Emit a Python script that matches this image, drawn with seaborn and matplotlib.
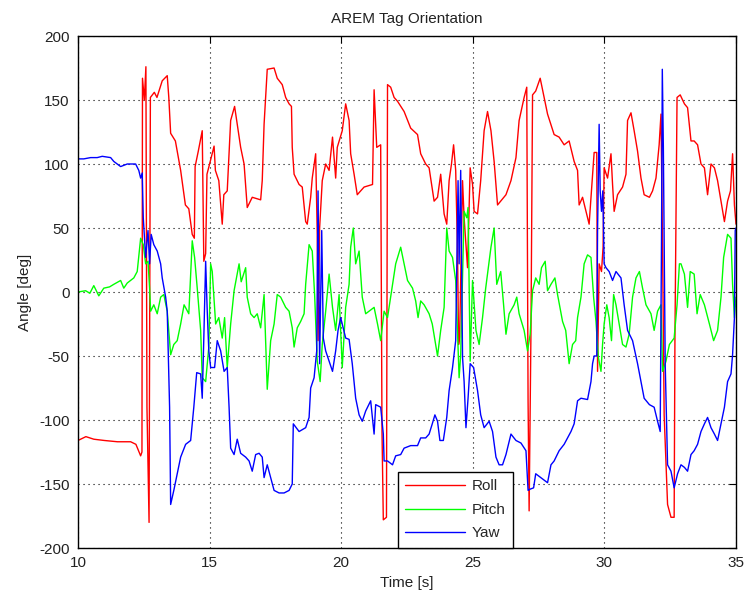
import matplotlib
matplotlib.use("Agg")
import matplotlib.pyplot as plt
import seaborn as sns
import pandas as pd
from matplotlib.lines import Line2D

# ---------------- data ----------------
roll_t = [10.0, 10.3, 10.6, 11.0, 11.5, 12.0, 12.2, 12.38, 12.43, 12.45, 12.52, 12.58, 12.62, 12.7,
          12.75, 12.9, 13.0, 13.2, 13.39, 13.45, 13.52, 13.7, 13.9, 14.08, 14.21, 14.34, 14.42, 14.45,
          14.57, 14.72, 14.78, 14.85, 14.9, 15.0, 15.17, 15.22, 15.35, 15.48, 15.54, 15.67, 15.8,
          15.95, 16.05, 16.18, 16.31, 16.43, 16.62, 16.94, 17.0, 17.07, 17.19, 17.45, 17.57, 17.76,
          17.89, 18.02, 18.11, 18.14, 18.21, 18.4, 18.52, 18.65, 18.71, 18.84, 18.9, 19.03, 19.09,
          19.12, 19.18, 19.28, 19.41, 19.54, 19.67, 19.79, 19.85, 20.04, 20.17, 20.3, 20.36, 20.49,
          20.61, 20.87, 21.19, 21.25, 21.35, 21.5, 21.55, 21.6, 21.72, 21.76, 21.88, 22.01, 22.14,
          22.39, 22.64, 22.9, 23.02, 23.21, 23.34, 23.53, 23.66, 23.78, 23.91, 24.01, 24.1, 24.19,
          24.27, 24.35, 24.42, 24.46, 24.5, 24.61, 24.67, 24.8, 24.9, 24.99, 25.05, 25.18, 25.3,
          25.43, 25.56, 25.69, 25.81, 25.94, 26.06, 26.26, 26.45, 26.64, 26.76, 26.95, 27.05, 27.1,
          27.14, 27.21, 27.27, 27.39, 27.56, 27.71, 27.84, 28.09, 28.28, 28.47, 28.66, 28.85, 28.98,
          29.04, 29.17, 29.3, 29.42, 29.51, 29.61, 29.71, 29.74, 29.8, 29.89, 29.95, 29.99, 30.12,
          30.25, 30.31, 30.37, 30.5, 30.69, 30.82, 30.88, 31.01, 31.13, 31.26, 31.39, 31.51, 31.71,
          31.83, 31.96, 32.08, 32.15, 32.21, 32.27, 32.4, 32.53, 32.65, 32.68, 32.76, 32.88, 33.04,
          33.16, 33.29, 33.41, 33.54, 33.67, 33.8, 33.92, 34.05, 34.18, 34.3, 34.43, 34.56, 34.68,
          34.79, 34.87, 34.94, 35.0]
roll_v = [-116, -113, -115, -116, -117, -117, -119, -128, -125, 167, 150, 176, -90, -180,
          152, 156, 152, 165, 169, 152, 124, 118, 95, 68, 65, 45, 42, 98,
          110, 126, 24, 30, 92, 100, 114, 95, 87, 53, 76, 79, 134,
          145, 131, 113, 100, 66, 74, 72, 87, 131, 174, 175, 167, 162,
          152, 147, 145, 113, 92, 84, 82, 55, 53, 74, 89, 108, 45,
          -38, 50, 87, 100, 95, 121, 89, 113, 126, 147, 134, 108, 92,
          76, 82, 84, 158, 113, 115, -109, -178, -176, 162, 160, 152, 149,
          141, 128, 123, 108, 100, 97, 71, 74, 92, 61, 53, 87, 100,
          115, 95, 32, -41, -35, 87, 58, 19, 97, 84, 63, 61, 87,
          126, 141, 126, 102, 68, 71, 76, 87, 105, 134, 152, 160, -85,
          -171, -30, 154, 157, 167, 152, 139, 123, 121, 115, 118, 102, 95,
          68, 74, 63, 53, 79, 109, 109, -62, 22, 16, 35, 97, 89,
          108, 84, 63, 76, 82, 92, 134, 140, 126, 110, 89, 76, 74,
          79, 89, 115, 139, 35, -96, -166, -176, -176, -36, 152, 154, 147,
          144, 118, 118, 115, 100, 97, 76, 100, 97, 87, 71, 55, 71,
          79, 108, 68, 53]

pitch_t = [10.0, 10.29, 10.45, 10.6, 10.79, 10.98, 11.2, 11.36, 11.62, 11.74, 11.87, 12.12, 12.25,
           12.38, 12.48, 12.57, 12.66, 12.72, 12.76, 12.88, 13.01, 13.14, 13.26, 13.39, 13.52, 13.64,
           13.77, 13.9, 14.03, 14.21, 14.34, 14.43, 14.53, 14.66, 14.72, 14.85, 14.97, 15.04, 15.1,
           15.23, 15.35, 15.48, 15.57, 15.67, 15.8, 15.93, 16.12, 16.2, 16.37, 16.43, 16.56, 16.69,
           16.81, 16.94, 17.07, 17.19, 17.32, 17.45, 17.57, 17.7, 17.89, 18.02, 18.14, 18.21, 18.33,
           18.46, 18.59, 18.65, 18.78, 18.9, 18.99, 19.09, 19.2, 19.28, 19.41, 19.54, 19.67, 19.79,
           19.92, 20.04, 20.17, 20.3, 20.36, 20.46, 20.55, 20.68, 20.8, 20.93, 21.06, 21.25, 21.38,
           21.5, 21.63, 21.76, 21.95, 22.07, 22.26, 22.39, 22.52, 22.71, 22.83, 22.92, 23.02, 23.15,
           23.34, 23.46, 23.66, 23.78, 23.91, 24.01, 24.1, 24.23, 24.35, 24.48, 24.54, 24.67, 24.77,
           24.82, 24.9, 24.99, 25.12, 25.24, 25.37, 25.49, 25.69, 25.81, 25.91, 26.06, 26.17, 26.26,
           26.38, 26.57, 26.67, 26.76, 26.95, 27.08, 27.18, 27.27, 27.39, 27.52, 27.61, 27.75, 27.84,
           27.97, 28.12, 28.22, 28.41, 28.53, 28.66, 28.79, 28.91, 28.98, 29.11, 29.23, 29.36, 29.49,
           29.59, 29.68, 29.77, 29.87, 29.93, 29.99, 30.09, 30.18, 30.27, 30.35, 30.44, 30.56, 30.69,
           30.82, 30.94, 31.07, 31.2, 31.33, 31.45, 31.58, 31.77, 31.89, 32.02, 32.15, 32.21, 32.34,
           32.47, 32.65, 32.76, 32.85, 32.91, 33.04, 33.16, 33.26, 33.41, 33.52, 33.64, 33.8, 33.99,
           34.15, 34.3, 34.43, 34.53, 34.68, 34.81, 34.87, 34.94, 35.0]
pitch_v = [0, 1, -1, 5, -3, 3, 4, 6, 9, 3, 7, 11, 16,
           42, 37, 22, 24, 3, -15, -10, -17, -4, -2, -15, -49, -41,
           -38, -25, -10, -17, 40, 27, 3, -30, -67, -70, -43, 22, 16,
           -25, -20, -36, -20, -59, -25, 1, 22, 8, 19, -4, -17, -20,
           -17, -28, -2, -76, -38, -25, -2, -4, -12, -15, -28, -43, -28,
           -23, -17, 6, 37, 32, -2, -54, -70, -41, -15, 14, -12, -30,
           -2, -59, -12, 6, 35, 50, 22, 32, -4, -17, -15, -12, -25,
           -38, -15, -20, 6, 22, 35, 22, 9, 3, -7, -20, -7, -10,
           -17, -25, -50, -30, -12, 50, 32, 27, 9, -67, -49, 63, 58,
           66, -54, 9, -30, -41, -20, 3, 35, 50, 6, 16, -10, -33,
           -17, -10, -4, -17, -30, -46, -33, 1, 11, 6, 19, 24, 1,
           6, 11, -2, -23, -30, -56, -41, -38, -20, -4, 22, 29, 27,
           -4, -23, -51, -62, -41, -25, -10, -20, -38, -2, -10, -25, -41,
           -43, -33, -4, 11, 16, 3, -10, -17, -30, -15, -10, -62, -54,
           -41, -36, -10, 22, 22, 14, -12, 16, 14, -17, -2, -10, -25,
           -38, -30, -4, 27, 45, 42, 6, -20, -4]

yaw_t = [10.0, 10.22, 10.48, 10.73, 10.92, 11.24, 11.36, 11.62, 11.87, 12.19, 12.31, 12.38, 12.44,
         12.48, 12.57, 12.66, 12.72, 12.78, 12.88, 13.01, 13.14, 13.2, 13.33, 13.39, 13.48, 13.52,
         13.64, 13.77, 13.9, 14.09, 14.28, 14.4, 14.51, 14.66, 14.72, 14.78, 14.85, 14.91, 14.97,
         15.04, 15.19, 15.29, 15.42, 15.55, 15.67, 15.74, 15.8, 15.93, 16.05, 16.18, 16.37, 16.5,
         16.62, 16.75, 16.88, 17.0, 17.07, 17.19, 17.32, 17.45, 17.64, 17.83, 18.02, 18.14, 18.18,
         18.4, 18.65, 18.78, 18.84, 18.97, 19.07, 19.12, 19.18, 19.26, 19.32, 19.41, 19.54, 19.67,
         19.79, 19.88, 19.98, 20.04, 20.17, 20.3, 20.42, 20.55, 20.68, 20.8, 20.93, 21.12, 21.25,
         21.31, 21.5, 21.6, 21.63, 21.76, 21.95, 22.07, 22.26, 22.39, 22.64, 22.9, 23.02, 23.21,
         23.34, 23.46, 23.56, 23.66, 23.75, 23.88, 24.01, 24.1, 24.23, 24.35, 24.44, 24.48, 24.54,
         24.61, 24.67, 24.74, 24.82, 24.9, 25.03, 25.18, 25.3, 25.43, 25.62, 25.75, 25.88, 26.0,
         26.13, 26.26, 26.45, 26.64, 26.83, 27.02, 27.1, 27.18, 27.31, 27.39, 27.58, 27.84, 27.97,
         28.09, 28.28, 28.47, 28.73, 28.85, 28.98, 29.11, 29.36, 29.49, 29.55, 29.61, 29.71, 29.74,
         29.8, 29.84, 29.89, 29.94, 29.99, 30.06, 30.18, 30.31, 30.44, 30.63, 30.75, 30.88, 31.07,
         31.26, 31.39, 31.51, 31.71, 31.89, 32.02, 32.12, 32.17, 32.2, 32.24, 32.31, 32.4, 32.53,
         32.65, 32.78, 32.91, 33.04, 33.16, 33.29, 33.41, 33.54, 33.67, 33.8, 33.92, 34.05, 34.18,
         34.3, 34.43, 34.56, 34.68, 34.81, 34.87, 34.94, 34.97, 35.0]
yaw_v = [104, 104, 105, 105, 106, 105, 102, 98, 100, 100, 95, 89, 93,
         58, 27, 48, 22, 45, 37, 32, 22, 11, -4, -15, -90, -166,
         -155, -142, -129, -119, -116, -90, -63, -64, -83, -36, 24, -15, -46,
         -59, -59, -38, -46, -62, -59, -90, -122, -127, -115, -126, -129, -132,
         -140, -127, -126, -129, -145, -135, -145, -155, -157, -157, -155, -150, -103,
         -109, -106, -98, -75, -67, -46, 79, -56, 48, -36, -46, -54, -62,
         -46, -30, -20, -25, -36, -37, -56, -83, -96, -101, -93, -85, -111,
         -88, -90, -111, -132, -132, -135, -128, -127, -122, -120, -120, -114, -114,
         -111, -103, -96, -101, -116, -116, -98, -77, -59, -38, 87, 22, 95,
         -51, -70, -106, -83, -56, -59, -77, -96, -106, -101, -109, -129, -135,
         -135, -127, -111, -116, -118, -124, -155, -154, -153, -142, -145, -149, -135,
         -132, -124, -119, -109, -103, -85, -83, -84, -70, -56, -50, -50, 48,
         131, 79, 63, 79, 22, 19, 16, 9, 16, 11, -10, -30, -38,
         -56, -70, -83, -88, -90, -101, -109, 42, 174, 113, -56, -135, -140,
         -153, -142, -135, -137, -140, -127, -124, -119, -109, -103, -98, -106, -111,
         -116, -103, -90, -70, -64, -49, -20, 48, 50]

series_names = ["Roll", "Pitch", "Yaw"]
series_colors = ["#ff0000", "#00ff00", "#0000ff"]
x_ticks = [10, 15, 20, 25, 30, 35]
y_ticks = [-200, -150, -100, -50, 0, 50, 100, 150, 200]

# ---------------- style ----------------
sns.set_theme(style="white")
plt.rcParams["font.family"] = ["Liberation Sans", "DejaVu Sans"]
plt.rcParams["xtick.direction"] = "in"
plt.rcParams["ytick.direction"] = "in"
plt.rcParams["axes.unicode_minus"] = False

fig = plt.figure(figsize=(7.46, 5.99), dpi=100)
ax = fig.add_axes([78 / 746, 1 - 548 / 599, (736 - 78) / 746, (548 - 36) / 599])

frames = []
for name, tt, vv in zip(series_names, [roll_t, pitch_t, yaw_t], [roll_v, pitch_v, yaw_v]):
    frames.append(pd.DataFrame({"t": tt, "v": vv, "series": name}))
df = pd.concat(frames, ignore_index=True)

sns.lineplot(data=df, x="t", y="v", hue="series", hue_order=series_names,
             palette=dict(zip(series_names, series_colors)), units="series",
             estimator=None, sort=False, linewidth=1.0, ax=ax, legend=False)

ax.set_xlim(10, 35)
ax.set_ylim(-200, 200)
ax.set_xticks(x_ticks)
ax.set_yticks(y_ticks)
ax.tick_params(axis="both", which="both", labelsize=11, length=5, width=0.8,
               color="black", top=True, right=True, pad=6, labelcolor="#222222")
ax.grid(True, color="black", linestyle=(0, (1, 3.5)), linewidth=0.8)
for s in ax.spines.values():
    s.set_color("black")
    s.set_linewidth(1.0)

ax.set_title("AREM Tag Orientation", fontsize=11, color="#222222", pad=9)
ax.set_xlabel("Time [s]", fontsize=11, color="#222222", labelpad=4)
ax.set_ylabel("Angle [deg]", fontsize=11, color="#222222", labelpad=5)

handles = [Line2D([0], [0], color=c, lw=1.0) for c in series_colors]
leg = ax.legend(handles, series_names, loc="lower left", bbox_to_anchor=(0.486, 0.0),
                borderaxespad=0, fontsize=11, handlelength=3.9, handletextpad=0.45,
                labelspacing=0.62, borderpad=0.5, fancybox=False, framealpha=1,
                edgecolor="black")
leg.get_frame().set_linewidth(1.0)

fig.savefig("out.png", dpi=100, facecolor="white")
